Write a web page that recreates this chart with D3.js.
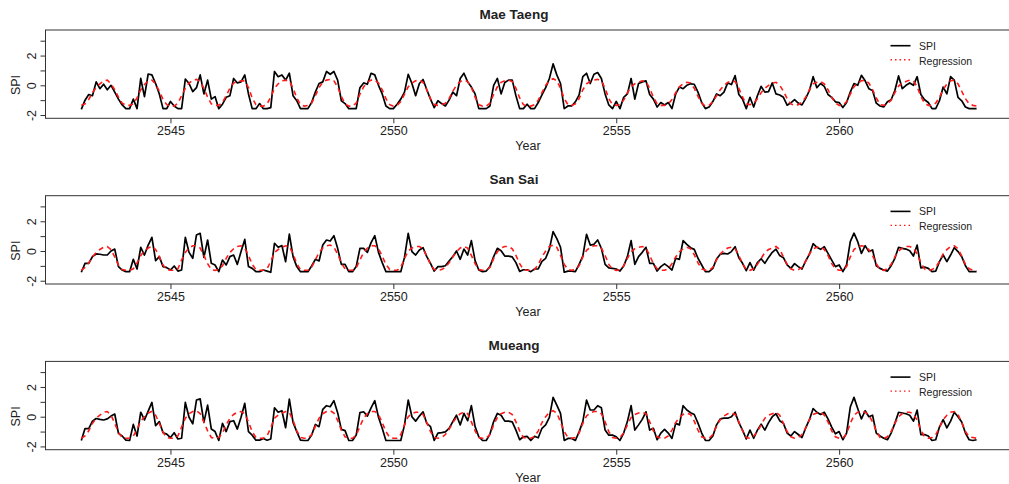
<!DOCTYPE html>
<html><head><meta charset="utf-8">
<script src="https://cdn.jsdelivr.net/npm/d3@7"></script>
<style>
body{margin:0;background:#fff}
text{font-family:"Liberation Sans",Arial,Helvetica,sans-serif;fill:#222}
</style>
</head><body>
<svg id="chart" width="1009" height="484"></svg>
<script>
const stations = ["Mae Taeng", "San Sai", "Mueang"];
const startYear = 2543;
const xTicks = [2545, 2550, 2555, 2560];
const yTicks = [-2, -1, 0, 1, 2, 3];
const yTickLabels = ["-2", "", "0", "", "2", ""];
const legendLabels = ["SPI", "Regression"];

const maeTaengSPI = [
-1.62,-1.0,-0.62,-0.7,0.23,-0.23,0.07,-0.3,0.0,-0.46,-0.93,-1.32,
-1.57,-1.57,-0.93,-1.57,0.46,-0.76,0.76,0.7,0.12,-0.58,-1.57,-1.57,
-1.09,-1.39,-1.57,-1.57,0.42,0.12,-0.42,-0.16,0.7,-0.58,0.35,-0.93,
-0.76,-1.57,-1.27,-0.81,-0.7,0.46,0.16,0.23,0.7,-0.58,-1.57,-1.57,
-1.23,-1.57,-1.57,-1.5,0.93,0.58,0.7,0.35,0.81,-0.7,-1.04,-1.57,
-1.57,-1.57,-1.16,-0.46,0.12,0.23,0.93,0.74,0.93,0.35,-1.04,-1.23,
-1.57,-1.57,-1.57,-0.16,0.16,0.07,0.81,0.7,0.0,-0.58,-1.39,-1.57,
-1.57,-1.27,-0.93,-0.46,0.74,0.12,-0.7,0.12,0.39,-0.3,-0.93,-1.5,
-1.04,-1.23,-1.39,-1.0,-0.46,-0.7,0.46,0.81,0.23,-0.12,-0.58,-1.57,
-1.57,-1.57,-1.39,0.0,0.46,-0.58,0.19,0.35,0.35,-0.7,-1.57,-1.57,
-1.27,-1.57,-1.57,-1.16,-0.65,-0.16,0.46,1.44,0.7,0.12,-1.57,-1.39,
-1.39,-1.11,-0.65,0.58,0.81,0.12,0.74,0.86,0.46,-0.58,-1.32,-1.57,
-1.09,-1.57,-0.81,-0.58,0.46,-0.93,0.12,0.23,0.3,-0.62,-0.93,-1.46,
-1.16,-1.32,-1.16,-1.57,-0.58,-0.12,-0.23,0.0,0.1,0.07,-0.46,-1.16,
-1.57,-1.46,-1.09,-0.58,-0.7,-0.46,0.16,0.05,0.65,-0.62,-0.93,-1.57,
-0.81,-1.46,-0.7,-0.07,-0.46,-0.42,0.16,-0.58,-0.65,-0.81,-1.34,-1.18,
-0.97,-1.2,-1.32,-0.88,-0.35,0.58,-0.16,0.12,-0.07,-0.62,-0.81,-1.11,
-1.16,-1.5,-1.16,-0.46,0.12,0.0,0.67,0.3,-0.23,-0.35,-1.2,-1.39,
-1.46,-1.11,-0.97,-0.35,0.63,-0.23,0.0,0.16,0.0,0.58,-0.62,-0.97,
-1.16,-1.57,-1.57,-1.04,-0.12,-0.58,0.58,0.35,-0.81,-1.04,-1.46,-1.57,
-1.57,-1.57];

const maeTaengReg = [
-1.35,-1.25,-0.95,-0.5,-0.15,0.1,0.3,0.35,0.1,-0.3,-0.8,-1.2,
-1.35,-1.35,-1.25,-0.85,-0.3,0.05,0.3,0.35,0.1,-0.4,-0.95,-1.3,
-1.4,-1.4,-1.2,-0.7,-0.2,0.15,0.35,0.4,0.25,-0.2,-0.8,-1.25,
-1.35,-1.35,-1.15,-0.7,-0.2,0.15,0.25,0.3,0.3,-0.15,-0.85,-1.3,
-1.4,-1.4,-1.25,-0.8,-0.2,0.1,0.3,0.35,0.3,-0.2,-0.85,-1.3,
-1.4,-1.35,-1.2,-0.7,-0.15,0.2,0.35,0.4,0.3,-0.1,-0.75,-1.25,
-1.4,-1.4,-1.2,-0.6,-0.1,0.2,0.35,0.35,0.15,-0.3,-0.9,-1.3,
-1.4,-1.35,-1.1,-0.6,-0.1,0.15,0.3,0.35,0.2,-0.3,-0.9,-1.3,
-1.35,-1.3,-1.2,-0.9,-0.4,0.0,0.25,0.35,0.25,-0.15,-0.8,-1.3,
-1.4,-1.4,-1.2,-0.6,-0.1,0.2,0.3,0.35,0.25,-0.2,-0.85,-1.3,
-1.4,-1.4,-1.3,-1.0,-0.5,0.0,0.3,0.45,0.3,-0.2,-0.9,-1.3,
-1.35,-1.25,-0.9,-0.3,0.1,0.25,0.35,0.4,0.3,-0.2,-0.9,-1.3,
-1.35,-1.3,-1.0,-0.5,-0.1,0.1,0.2,0.3,0.25,-0.2,-0.8,-1.25,
-1.35,-1.35,-1.25,-0.95,-0.5,-0.1,0.1,0.2,0.15,-0.2,-0.75,-1.2,
-1.4,-1.35,-1.1,-0.7,-0.3,0.0,0.2,0.3,0.25,-0.2,-0.8,-1.25,
-1.3,-1.2,-0.9,-0.5,-0.2,0.0,0.15,0.2,0.0,-0.4,-0.9,-1.25,
-1.35,-1.3,-1.15,-0.8,-0.3,0.1,0.2,0.25,0.1,-0.3,-0.8,-1.2,
-1.35,-1.35,-1.1,-0.6,-0.1,0.15,0.3,0.35,0.15,-0.3,-0.85,-1.3,
-1.35,-1.25,-1.0,-0.5,-0.05,0.15,0.25,0.35,0.3,-0.1,-0.75,-1.2,
-1.35,-1.35,-1.2,-0.8,-0.3,0.1,0.3,0.35,0.1,-0.4,-0.9,-1.25,
-1.35,-1.4];

const sanSaiSPI = [
-1.43,-0.83,-0.83,-0.38,-0.2,-0.22,-0.27,-0.27,0.0,0.13,-1.05,-1.28,
-1.39,-1.39,-0.56,-1.21,0.25,-0.27,0.4,0.92,-0.65,-0.38,-1.05,-1.12,
-1.28,-1.01,-1.35,-1.28,0.92,-0.09,-0.49,1.08,1.19,-0.43,0.74,-0.83,
-0.94,-1.39,-0.61,-0.94,-0.38,-0.27,-0.9,-0.04,0.78,-1.05,-1.17,-1.39,
-1.39,-1.28,-1.35,-1.43,0.52,0.25,0.36,-0.72,1.14,-0.38,-1.05,-1.39,
-1.39,-1.39,-1.01,-0.56,-0.67,0.4,0.74,0.67,1.03,0.18,-0.9,-0.9,
-1.39,-1.39,-1.05,0.18,0.18,-0.09,0.56,1.03,-0.09,-0.78,-1.39,-1.39,
-1.39,-1.39,-1.39,-0.43,1.19,-0.04,-0.27,0.07,0.22,-0.38,-0.83,-1.35,
-1.05,-1.05,-0.99,-0.67,-0.38,0.0,-0.56,0.13,-0.27,0.7,-0.65,-1.28,
-1.39,-1.35,-1.05,-0.38,0.18,0.02,-0.34,-0.34,-0.4,-0.78,-1.37,-1.26,
-1.26,-1.39,-1.21,-1.21,-0.7,-0.49,0.13,1.3,0.83,0.25,-1.43,-1.35,
-1.35,-1.39,-0.9,-0.34,1.12,0.4,0.45,0.74,0.18,-0.9,-1.14,-1.17,
-1.21,-1.35,-1.01,-0.38,0.7,-0.9,-0.38,-0.09,0.25,-0.83,-0.83,-1.35,
-1.05,-0.87,-1.05,-1.28,-0.49,-0.56,0.7,0.45,0.22,0.11,-0.49,-0.94,
-1.39,-1.39,-1.17,-0.54,-0.22,-0.16,-0.2,-0.04,0.29,-0.45,-0.83,-1.32,
-0.78,-1.28,-0.78,-0.52,-0.83,-0.43,-0.09,0.13,-0.31,-0.45,-0.94,-1.17,
-0.85,-1.05,-1.21,-0.67,-0.22,0.49,0.25,0.11,0.29,-0.16,-0.61,-1.05,
-0.94,-1.39,-0.94,0.63,1.2,0.63,-0.16,0.36,-0.04,0.07,-0.99,-1.17,
-1.28,-1.35,-0.99,-0.49,0.25,0.18,0.13,0.02,-0.34,0.4,-1.14,-1.08,
-1.17,-1.39,-1.35,-0.72,-0.27,-0.72,-0.27,0.22,-0.04,-0.38,-0.99,-1.39,
-1.39,-1.39];

const sanSaiReg = [
-1.3,-1.1,-0.8,-0.4,-0.1,0.1,0.25,0.3,0.1,-0.4,-0.95,-1.25,
-1.3,-1.3,-1.2,-0.8,-0.3,0.0,0.2,0.3,0.1,-0.4,-0.95,-1.25,
-1.3,-1.3,-1.2,-0.6,-0.1,0.2,0.35,0.35,0.2,-0.3,-0.85,-1.25,
-1.3,-1.25,-1.0,-0.5,-0.1,0.15,0.3,0.35,0.2,-0.3,-0.9,-1.25,
-1.3,-1.3,-1.2,-0.7,-0.1,0.1,0.25,0.35,0.3,-0.2,-0.85,-1.25,
-1.3,-1.3,-1.1,-0.6,-0.1,0.2,0.35,0.4,0.25,-0.2,-0.8,-1.2,
-1.3,-1.3,-1.15,-0.6,-0.1,0.2,0.35,0.35,0.15,-0.35,-0.9,-1.25,
-1.3,-1.3,-1.1,-0.5,0.0,0.2,0.3,0.3,0.15,-0.35,-0.9,-1.25,
-1.3,-1.25,-1.1,-0.8,-0.4,-0.05,0.2,0.3,0.2,-0.3,-0.85,-1.25,
-1.3,-1.3,-1.1,-0.5,-0.05,0.2,0.3,0.3,0.15,-0.3,-0.85,-1.25,
-1.3,-1.3,-1.25,-0.9,-0.4,0.0,0.3,0.4,0.25,-0.3,-0.9,-1.25,
-1.3,-1.25,-1.0,-0.4,0.05,0.25,0.35,0.35,0.2,-0.3,-0.9,-1.25,
-1.3,-1.25,-1.0,-0.5,-0.05,0.15,0.25,0.3,0.2,-0.3,-0.85,-1.2,
-1.3,-1.3,-1.2,-0.85,-0.4,-0.05,0.15,0.25,0.15,-0.25,-0.8,-1.2,
-1.3,-1.3,-1.1,-0.6,-0.2,0.05,0.2,0.25,0.15,-0.3,-0.85,-1.25,
-1.3,-1.2,-0.9,-0.5,-0.1,0.1,0.2,0.3,0.1,-0.4,-0.9,-1.2,
-1.3,-1.25,-1.1,-0.7,-0.2,0.15,0.25,0.3,0.1,-0.3,-0.85,-1.2,
-1.3,-1.3,-1.05,-0.4,0.1,0.3,0.35,0.3,0.1,-0.3,-0.85,-1.25,
-1.3,-1.2,-0.9,-0.4,0.0,0.2,0.3,0.3,0.2,-0.2,-0.8,-1.2,
-1.3,-1.25,-1.1,-0.7,-0.2,0.1,0.3,0.35,0.15,-0.35,-0.9,-1.2,
-1.3,-1.35];

const mueangSPI = [
-1.6,-0.8,-0.8,-0.3,-0.12,-0.18,-0.22,-0.15,0.04,0.18,-1.12,-1.3,
-1.58,-1.6,-0.52,-1.3,0.3,-0.22,0.38,0.96,-0.6,-0.33,-1.08,-1.17,
-1.4,-1.08,-1.5,-1.45,0.96,-0.04,-0.48,1.12,1.2,-0.38,0.78,-0.83,
-1.0,-1.6,-0.45,-1.0,-0.33,-0.27,-0.83,-0.04,0.9,-1.0,-1.24,-1.58,
-1.58,-1.46,-1.58,-1.5,0.6,0.3,0.4,-0.74,1.18,-0.38,-1.0,-1.58,
-1.6,-1.6,-1.24,-0.52,-0.67,0.5,0.74,0.67,1.08,0.27,-0.85,-0.94,
-1.6,-1.6,-1.24,0.27,0.33,0.04,0.6,1.08,-0.04,-0.78,-1.6,-1.6,
-1.6,-1.6,-1.6,-0.55,1.12,0.0,-0.3,0.04,0.33,-0.45,-0.67,-1.6,
-1.1,-1.07,-1.02,-0.78,-0.33,0.1,-0.55,0.22,-0.27,0.74,-0.67,-1.35,
-1.6,-1.6,-1.17,-0.33,0.22,0.1,-0.3,-0.3,-0.35,-0.9,-1.55,-1.35,
-1.32,-1.6,-1.32,-1.42,-0.78,-0.55,-0.04,1.3,0.78,0.22,-1.6,-1.46,
-1.46,-1.6,-1.02,-0.33,1.12,0.45,0.45,0.74,0.6,-0.9,-1.24,-1.24,
-1.35,-1.6,-1.1,-0.33,0.74,-0.9,-0.55,-0.18,0.33,-0.9,-0.78,-1.55,
-1.1,-0.85,-1.1,-1.46,-0.45,-0.55,0.74,0.45,0.27,0.15,-0.43,-1.1,
-1.6,-1.6,-1.3,-0.55,-0.15,-0.1,-0.1,0.0,0.3,-0.4,-0.9,-1.5,
-0.9,-1.45,-0.9,-0.5,-0.9,-0.4,0.0,0.2,-0.27,-0.45,-1.1,-1.3,
-1.0,-1.2,-1.4,-0.75,-0.2,0.55,0.3,0.15,0.3,-0.15,-0.7,-1.15,
-1.0,-1.55,-1.1,0.65,1.3,0.55,-0.15,0.4,0.0,0.1,-1.1,-1.3,
-1.45,-1.55,-1.1,-0.45,0.3,0.25,0.2,0.1,-0.3,0.45,-1.2,-1.2,
-1.3,-1.6,-1.55,-0.7,-0.2,-0.75,-0.3,0.3,0.0,-0.35,-1.1,-1.55,
-1.6,-1.55];

const mueangReg = [
-1.45,-1.3,-0.95,-0.45,-0.1,0.1,0.3,0.35,0.1,-0.45,-1.05,-1.4,
-1.45,-1.45,-1.3,-0.85,-0.3,0.0,0.25,0.35,0.1,-0.45,-1.05,-1.4,
-1.45,-1.45,-1.3,-0.7,-0.1,0.2,0.35,0.4,0.2,-0.35,-0.95,-1.4,
-1.45,-1.4,-1.1,-0.55,-0.1,0.15,0.3,0.35,0.2,-0.35,-1.0,-1.4,
-1.45,-1.45,-1.3,-0.75,-0.1,0.1,0.25,0.35,0.3,-0.25,-0.95,-1.4,
-1.45,-1.45,-1.2,-0.65,-0.1,0.2,0.35,0.4,0.25,-0.25,-0.9,-1.35,
-1.45,-1.45,-1.25,-0.65,-0.1,0.2,0.35,0.35,0.15,-0.4,-1.0,-1.4,
-1.45,-1.45,-1.2,-0.55,0.0,0.2,0.3,0.3,0.15,-0.4,-1.0,-1.4,
-1.45,-1.4,-1.2,-0.85,-0.4,-0.05,0.2,0.3,0.2,-0.35,-0.95,-1.4,
-1.45,-1.45,-1.2,-0.55,-0.05,0.2,0.3,0.3,0.15,-0.35,-0.95,-1.4,
-1.45,-1.45,-1.35,-0.95,-0.4,0.0,0.3,0.4,0.25,-0.35,-1.0,-1.4,
-1.45,-1.4,-1.1,-0.45,0.05,0.25,0.35,0.35,0.2,-0.35,-1.0,-1.4,
-1.45,-1.4,-1.1,-0.55,-0.05,0.15,0.25,0.3,0.2,-0.35,-0.95,-1.35,
-1.45,-1.45,-1.3,-0.9,-0.4,-0.05,0.15,0.25,0.15,-0.3,-0.9,-1.35,
-1.45,-1.45,-1.2,-0.65,-0.2,0.05,0.2,0.25,0.15,-0.35,-0.95,-1.4,
-1.45,-1.3,-1.0,-0.55,-0.1,0.1,0.2,0.3,0.1,-0.45,-1.0,-1.35,
-1.45,-1.4,-1.2,-0.75,-0.2,0.15,0.25,0.3,0.1,-0.35,-0.95,-1.35,
-1.45,-1.45,-1.15,-0.45,0.1,0.3,0.35,0.3,0.1,-0.35,-0.95,-1.4,
-1.45,-1.35,-1.0,-0.45,0.0,0.2,0.3,0.3,0.2,-0.25,-0.9,-1.35,
-1.45,-1.4,-1.2,-0.75,-0.2,0.1,0.3,0.35,0.15,-0.4,-1.0,-1.35,
-1.4,-1.45];

const spiSeries = [maeTaengSPI, sanSaiSPI, mueangSPI];
const regSeries = [maeTaengReg, sanSaiReg, mueangReg];

const svg = d3.select("#chart");
const n = maeTaengSPI.length;
const t = d3.range(n).map(i => startYear + i / 12);
const tMin = startYear, tMax = startYear + (n - 1) / 12;
const pad = (tMax - tMin) * 0.04;

const left = 45.5, right = 1012.4;
const x = d3.scaleLinear().domain([tMin - pad, tMax + pad]).range([left, right]);

const panelTop0 = 30, panelH = 88.3, panelStep = 165.7;

stations.forEach((name, k) => {
  const top = panelTop0 + k * panelStep;
  const bottom = top + panelH;
  const y = d3.scaleLinear().domain([-2.22, 3.72]).range([bottom, top]);
  const g = svg.append("g");

  g.append("rect").attr("x", left).attr("y", top)
    .attr("width", right - left).attr("height", panelH)
    .attr("fill", "none").attr("stroke", "#333").attr("stroke-width", 1);

  const xa = g.append("g").attr("transform", `translate(0,${bottom})`)
    .call(d3.axisBottom(x).tickValues(xTicks).tickSize(5).tickFormat(d3.format("d")));
  xa.select(".domain").remove();
  xa.selectAll("line").attr("stroke", "#333");
  xa.selectAll("text").attr("font-size", "12.5px").attr("y", 8).attr("dy", "0.71em").attr("fill", "#222");

  const ya = g.append("g").attr("transform", `translate(${left},0)`)
    .call(d3.axisLeft(y).tickValues(yTicks).tickSize(5).tickFormat((d, i) => yTickLabels[i]));
  ya.select(".domain").remove();
  ya.selectAll("line").attr("stroke", "#333");
  ya.selectAll("text").attr("font-size", "12.5px").attr("fill", "#222")
    .attr("x", null).attr("dy", null)
    .attr("text-anchor", "middle")
    .attr("transform", `translate(${31 - left},0) rotate(-90) translate(0,4.5)`)
    .attr("y", 0);

  g.append("text").attr("x", 528).attr("y", bottom + 32).attr("text-anchor", "middle")
    .attr("font-size", "12.5px").text("Year");
  g.append("text").attr("transform", `translate(20,${top + 55}) rotate(-90)`)
    .attr("text-anchor", "middle").attr("font-size", "12.5px").text("SPI");
  g.append("text").attr("x", 514).attr("y", top - 11.5).attr("text-anchor", "middle")
    .attr("font-size", "13.5px").attr("font-weight", "bold").text(name);

  const line = d3.line().x((d, i) => x(t[i])).y(d => y(d));
  g.append("path").datum(spiSeries[k]).attr("d", line)
    .attr("fill", "none").attr("stroke", "#000").attr("stroke-width", 1.7)
    .attr("stroke-linejoin", "round");
  g.append("path").datum(regSeries[k]).attr("d", line)
    .attr("fill", "none").attr("stroke", "#ff1a1a").attr("stroke-width", 1.6)
    .attr("stroke-dasharray", "5,4");

  const lx = 890.5, ly = top + 15.7;
  g.append("line").attr("x1", lx).attr("x2", lx + 20).attr("y1", ly).attr("y2", ly)
    .attr("stroke", "#000").attr("stroke-width", 1.6);
  g.append("line").attr("x1", lx).attr("x2", lx + 20).attr("y1", ly + 14).attr("y2", ly + 14)
    .attr("stroke", "#ff1a1a").attr("stroke-width", 1.4).attr("stroke-dasharray", "1.5,3");
  legendLabels.forEach((lab, j) => {
    g.append("text").attr("x", lx + 28.5).attr("y", ly + j * 14.8 + 4)
      .attr("font-size", "10.5px").text(lab);
  });
});
</script>
</body></html>
